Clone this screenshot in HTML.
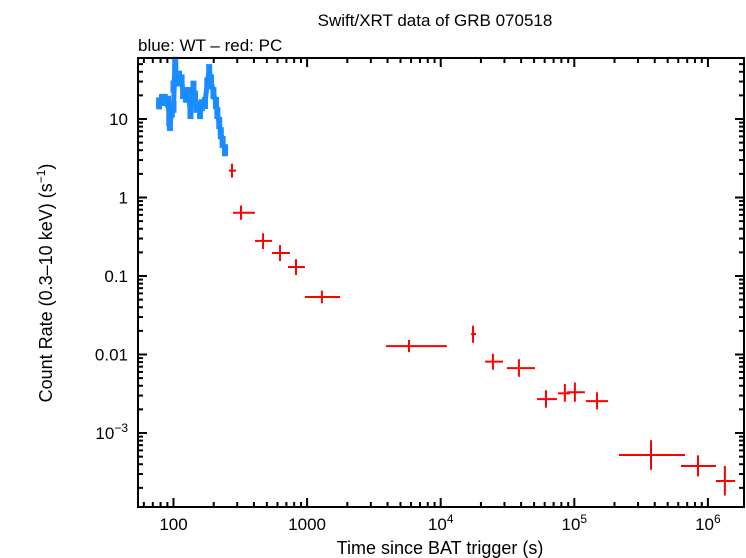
<!DOCTYPE html>
<html><head><meta charset="utf-8"><style>
html,body{margin:0;padding:0;background:#fff;}
svg{display:block;font-family:"Liberation Sans",sans-serif;}
</style></head><body>
<svg id="chart" width="746" height="558" viewBox="0 0 746 558" xmlns="http://www.w3.org/2000/svg">
<text x="435" y="26" font-size="17" text-anchor="middle">Swift/XRT data of GRB 070518</text>
<text x="138" y="51" font-size="17">blue: WT – red: PC</text>
<text x="440" y="554" font-size="18" text-anchor="middle">Time since BAT trigger (s)</text>
<text transform="translate(52,283) rotate(-90)" font-size="18" text-anchor="middle">Count Rate (0.3–10 keV) (s<tspan font-size="12" dy="-7">−1</tspan><tspan dy="7">)</tspan></text>
<g id="ticks"></g>
<g id="wt"></g>
<g id="pc"></g>
<rect x="138" y="58" width="606" height="449" fill="none" stroke="#000" stroke-width="2"/>
</svg>
<script>
// WT (blue) data
const wtTime = [78,82,86,91,93,94,97,100,103,103,100,106,110,115,118,124,129,134,141,145,149,158,163,172,179,185,191,199,208,213,220,226,233,243];
const wtRate = [15.8,17.5,17.5,16.6,9.7,8.4,12.4,14.3,52,42,25.8,31,34.6,31,21.4,19.2,21.4,11.9,25.8,19.2,14.3,11.9,15,16,28.5,42,31,21.4,16,11.9,8.9,6.6,5.1,4.0];
// PC (red) data
const pcTime  = [274,320,468,627,826,1291,5790,17460,24600,38500,61400,85000,101000,148000,375000,843000,1340000];
const pcTLo   = [260,279,407,546,719,964,3900,16900,21500,31300,52600,75500,88200,122000,216000,629000,1150000];
const pcTHi   = [294,407,546,745,964,1763,11100,18400,29300,50800,74200,92900,120000,179000,674000,1150000,1600000];
const pcRate  = [2.2,0.64,0.28,0.196,0.13,0.054,0.0128,0.0182,0.0081,0.0067,0.0027,0.0032,0.0033,0.00255,0.000525,0.00038,0.000245];
const pcRLo   = [1.79,0.52,0.22,0.155,0.103,0.045,0.0107,0.0141,0.0064,0.0052,0.0021,0.0025,0.0025,0.002,0.00034,0.00028,0.00016];
const pcRHi   = [2.7,0.79,0.35,0.248,0.164,0.065,0.0153,0.0233,0.0102,0.0087,0.0035,0.0042,0.0044,0.0033,0.00081,0.00052,0.00038];
const xTickLabels = ["100","1000","10^4","10^5","10^6"];
const yTickLabels = ["10","1","0.1","0.01","10^-3"];

const NS="http://www.w3.org/2000/svg";
const X0=138,X1=744,Y0=58,Y1=507;
const xPx=t=>173.5+(Math.log10(t)-2)*133.6;
const yPx=r=>119-(Math.log10(r)-1)*78.5;
function mk(tag,attrs,parent){const e=document.createElementNS(NS,tag);for(const k in attrs)e.setAttribute(k,attrs[k]);parent.appendChild(e);return e;}
const tg=document.getElementById('ticks');
// x ticks
for(let d=1;d<=6;d++){for(let m=1;m<=9;m++){const t=m*Math.pow(10,d);const x=xPx(t);if(x<X0+1||x>X1-1)continue;const L=m===1?9:5;
 const a=mk('line',{x1:x,y1:Y1,x2:x,y2:Y1-L,stroke:'#000','stroke-width':2},tg);
 const b=mk('line',{x1:x,y1:Y0,x2:x,y2:Y0+L,stroke:'#000','stroke-width':2},tg);}}
for(let i=0;i<xTickLabels.length;i++){const x=xPx(Math.pow(10,i+2));const s=xTickLabels[i];const tx=mk('text',{x:x,y:530,'font-size':17,'text-anchor':'middle'},tg);
 
 if(s.indexOf('^')>0){const p=s.split('^');tx.textContent=p[0];const sp=mk('tspan',{dy:-7,'font-size':12},tx);sp.textContent=p[1];}else tx.textContent=s;}
// y ticks
for(let d=-4;d<=1;d++){for(let m=1;m<=9;m++){const r=m*Math.pow(10,d);const y=yPx(r);if(y<Y0+1||y>Y1-1)continue;const L=m===1?9:5;
 const a=mk('line',{x1:X0,y1:y,x2:X0+L,y2:y,stroke:'#000','stroke-width':2},tg);
 const b=mk('line',{x1:X1,y1:y,x2:X1-L,y2:y,stroke:'#000','stroke-width':2},tg);}}
for(let i=0;i<yTickLabels.length;i++){const y=yPx(Math.pow(10,1-i));const s=yTickLabels[i];const tx=mk('text',{x:128,y:y+6,'font-size':17,'text-anchor':'end'},tg);
 
 if(s.indexOf('^')>0){const p=s.split('^');tx.textContent=p[0];const sp=mk('tspan',{dy:-7,'font-size':12},tx);sp.textContent=p[1].replace('-','−');}else tx.textContent=s;}
// WT
const wg=document.getElementById('wt');
for(let i=0;i<wtTime.length;i++){const x=xPx(wtTime[i]),y=yPx(wtRate[i]);
 const r=mk('rect',{x:x-3,y:y-6,width:6,height:12,fill:'#1a8cff'},wg);
 }
for(let i=0;i<wtTime.length-1;i++){const l=mk('line',{x1:xPx(wtTime[i]),y1:yPx(wtRate[i]),x2:xPx(wtTime[i+1]),y2:yPx(wtRate[i+1]),stroke:'#1a8cff','stroke-width':5},wg);
 }
// PC
const pg=document.getElementById('pc');
for(let i=0;i<pcTime.length;i++){const x=xPx(pcTime[i]),y=yPx(pcRate[i]);
 const g=mk('g',{},pg);
 mk('line',{x1:xPx(pcTLo[i]),y1:y,x2:xPx(pcTHi[i]),y2:y,stroke:'#ff0000','stroke-width':2},g);
 mk('line',{x1:x,y1:yPx(pcRLo[i]),x2:x,y2:yPx(pcRHi[i]),stroke:'#ff0000','stroke-width':2},g);}
</script>
</body></html>
